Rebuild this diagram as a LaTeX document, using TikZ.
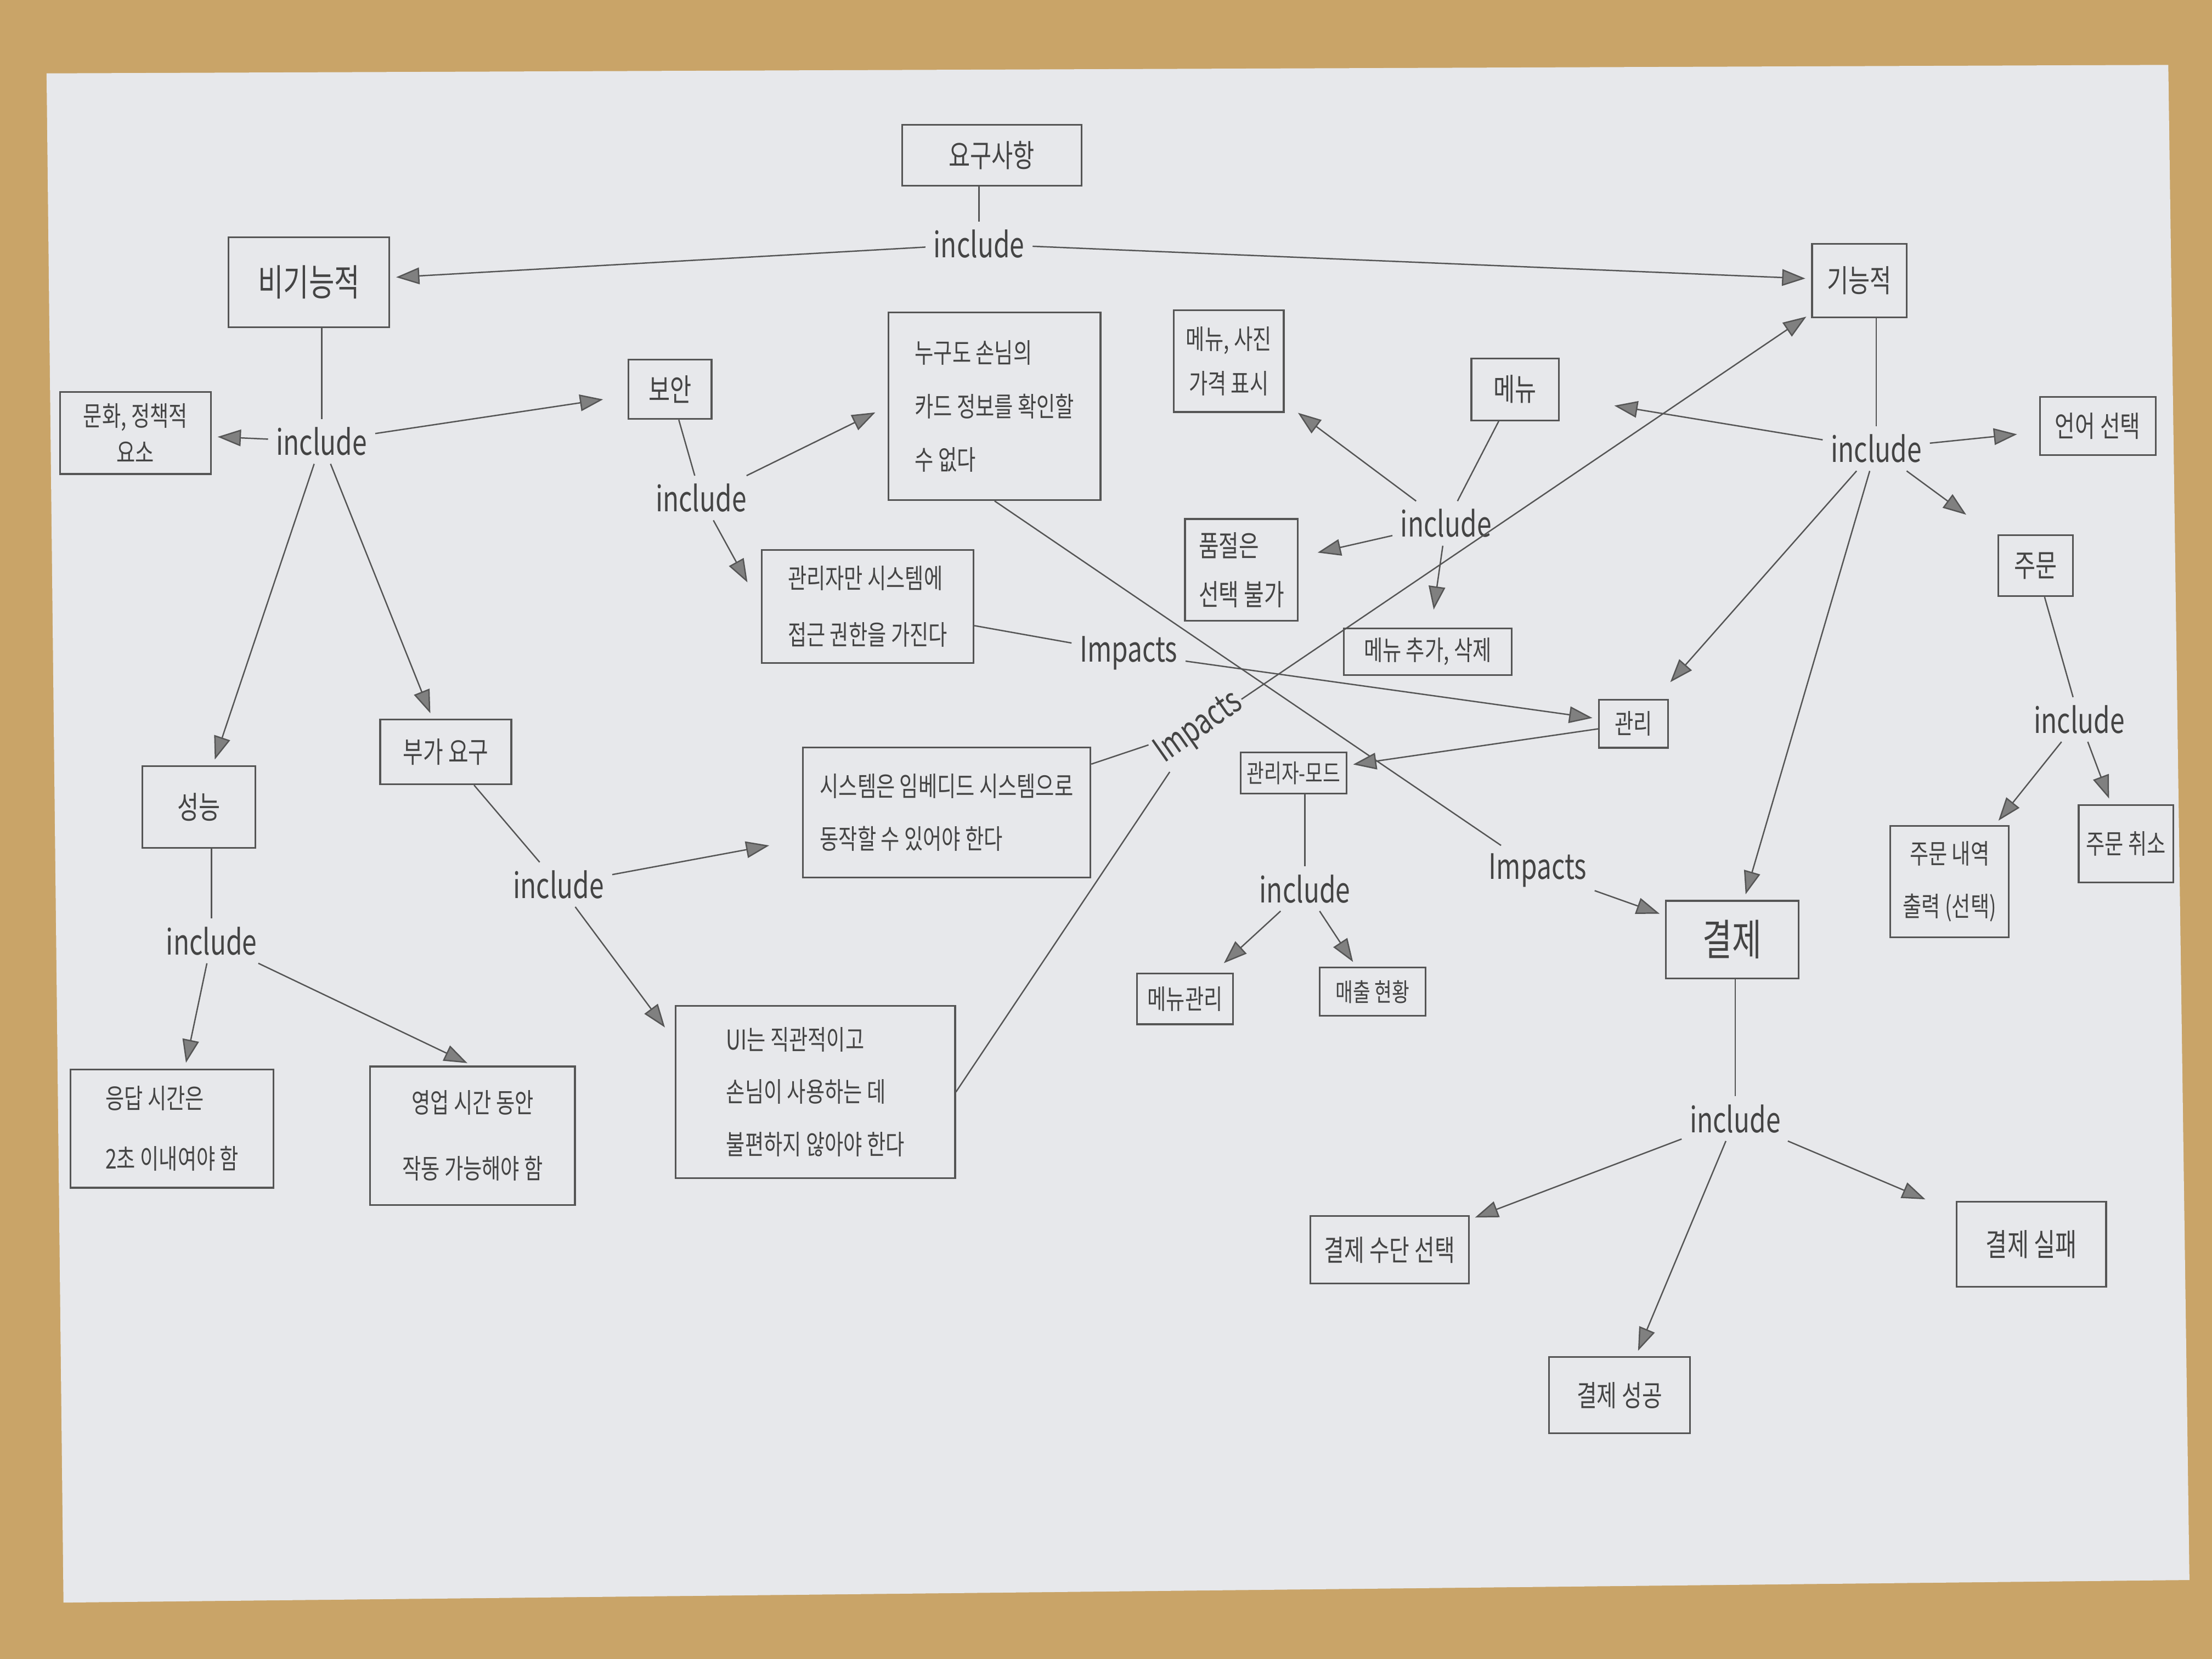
\documentclass[tikz,border=0pt]{standalone}
\usepackage{fontspec}
\newfontfamily\kr[FakeStretch=0.75]{Noto Sans CJK KR}
\usetikzlibrary{arrows.meta}
\definecolor{pencil}{HTML}{555555}
\definecolor{ink}{HTML}{444444}
\definecolor{paper}{HTML}{E7E8EB}
\definecolor{desk}{HTML}{C9A468}
\tikzset{
    box/.style={draw=pencil,line width=0.9pt,text=ink,align=center,inner sep=2pt,font=\kr\fontsize{14}{26}\selectfont},
    rel/.style={text=ink,inner sep=4pt,font=\kr\fontsize{18}{20}\selectfont},
    link/.style={draw=pencil,line width=0.7pt},
    arr/.style={link,-{Triangle[length=0.42cm,width=0.3cm,fill=pencil!75]},shorten >=3pt},
}

\begin{document}
\begin{tikzpicture}[x=0.0255cm,y=-0.0255cm]
            \fill[desk] (0,0) rectangle (1568,1176);
            \fill[paper] (33,52) -- (1537,46) -- (1552,1120) -- (45,1136) -- cycle;
            \useasboundingbox (0,0) rectangle (1568,1176);
            \node[box,minimum width=3.24cm,minimum height=1.1cm,font=\kr\fontsize{16}{20}\selectfont] (req) at (703,110) {요구사항};
            \node[rel] (increq) at (694,173) {include};
            \node[box,minimum width=2.91cm,minimum height=1.63cm,font=\kr\fontsize{19}{22}\selectfont] (nf) at (219,200) {비기능적};
            \node[box,minimum width=1.71cm,minimum height=1.33cm,font=\kr\fontsize{16}{20}\selectfont] (fn) at (1318,199) {기능적};
            % non-functional
            \node[rel] (incnf) at (228,313) {include};
            \node[box,minimum width=2.73cm,minimum height=1.48cm,font=\kr\fontsize{14}{19}\selectfont] (culture) at (96,307) {문화, 정책적\\요소};
            \node[box,minimum width=1.5cm,minimum height=1.07cm,font=\kr\fontsize{16}{20}\selectfont] (sec) at (475,276) {보안};
            \node[rel] (incsec) at (497,353) {include};
            \node[box,align=left,minimum width=3.83cm,minimum height=3.39cm,font=\kr\fontsize{14}{27.5}\selectfont] (card) at (705,288) {누구도 손님의\\카드 정보를 확인할\\수 없다};
            \node[box,align=left,minimum width=3.83cm,minimum height=2.04cm,font=\kr\fontsize{14}{29}\selectfont] (admin) at (615,430) {관리자만 시스템에\\접근 권한을 가진다};
            \node[box,minimum width=2.04cm,minimum height=1.48cm,font=\kr\fontsize{16}{20}\selectfont] (perf) at (141,572) {성능};
            \node[rel] (incperf) at (150,667) {include};
            \node[box,align=left,minimum width=3.67cm,minimum height=2.14cm,font=\kr\fontsize{14}{31}\selectfont] (resp) at (122,800) {응답 시간은\\2초 이내여야 함};
            \node[box,minimum width=3.7cm,minimum height=2.5cm,font=\kr\fontsize{14}{34}\selectfont] (hours) at (335,805) {영업 시간 동안\\작동 가능해야 함};
            \node[box,minimum width=2.37cm,minimum height=1.17cm,font=\kr\fontsize{15}{20}\selectfont] (extra) at (316,533) {부가 요구};
            \node[rel] (incextra) at (396,627) {include};
            \node[box,align=left,minimum width=5.2cm,minimum height=2.35cm,font=\kr\fontsize{14}{27}\selectfont] (embed) at (671,576) {시스템은 임베디드 시스템으로\\동작할 수 있어야 한다};
            \node[box,align=left,minimum width=5.05cm,minimum height=3.11cm,font=\kr\fontsize{14}{27}\selectfont] (ui) at (578,774) {UI는 직관적이고\\손님이 사용하는 데\\불편하지 않아야 한다};
            \node[rel] (imp1) at (800,463) {Impacts};
            \node[rel,rotate=35,inner sep=1pt] (imp2) at (850,516) {Impacts};
            \node[rel] (imp3) at (1090,617) {Impacts};
            % functional
            \node[rel] (incfn) at (1330,318) {include};
            \node[box,minimum width=2.09cm,minimum height=1.05cm,font=\kr\fontsize{15}{20}\selectfont] (lang) at (1487,302) {언어 선택};
            \node[box,minimum width=1.35cm,minimum height=1.1cm,font=\kr\fontsize{16}{20}\selectfont] (order) at (1443,401) {주문};
            \node[rel] (incorder) at (1474,510) {include};
            \node[box,minimum width=2.14cm,minimum height=2.01cm,font=\kr\fontsize{14}{27}\selectfont] (history) at (1382,625) {주문 내역\\출력 (선택)};
            \node[box,minimum width=1.71cm,minimum height=1.4cm,font=\kr\fontsize{14}{20}\selectfont] (cancel) at (1507,598) {주문 취소};
            \node[box,minimum width=1.58cm,minimum height=1.12cm,font=\kr\fontsize{16}{20}\selectfont] (menu) at (1074,276) {메뉴};
            \node[rel] (incmenu) at (1025,371) {include};
            \node[box,minimum width=1.99cm,minimum height=1.84cm,font=\kr\fontsize{14}{23}\selectfont] (photo) at (871,256) {메뉴, 사진\\가격 표시};
            \node[box,align=left,minimum width=2.04cm,minimum height=1.84cm,font=\kr\fontsize{15}{25}\selectfont] (soldout) at (880,404) {품절은\\선택 불가};
            \node[box,minimum width=3.03cm,minimum height=0.84cm,font=\kr\fontsize{14}{20}\selectfont] (addel) at (1012,462) {메뉴 추가, 삭제};
            \node[box,minimum width=1.25cm,minimum height=0.87cm,font=\kr\fontsize{14}{20}\selectfont] (mgmt) at (1158,513) {관리};
            \node[box,minimum width=1.91cm,minimum height=0.74cm,font=\kr\fontsize{13}{20}\selectfont] (adminmode) at (917,548) {관리자-모드};
            \node[rel] (incadm) at (925,630) {include};
            \node[box,minimum width=1.73cm,minimum height=0.92cm,font=\kr\fontsize{14}{20}\selectfont] (menumgmt) at (840,708) {메뉴관리};
            \node[box,minimum width=1.91cm,minimum height=0.87cm,font=\kr\fontsize{13}{20}\selectfont] (sales) at (973,703) {매출 현황};
            \node[box,minimum width=2.4cm,minimum height=1.4cm,font=\kr\fontsize{22}{24}\selectfont] (pay) at (1228,666) {결제};
            \node[rel] (incpay) at (1230,793) {include};
            \node[box,minimum width=2.86cm,minimum height=1.22cm,font=\kr\fontsize{15}{20}\selectfont] (paymethod) at (985,886) {결제 수단 선택};
            \node[box,minimum width=2.55cm,minimum height=1.38cm,font=\kr\fontsize{15}{20}\selectfont] (payok) at (1148,989) {결제 성공};
            \node[box,minimum width=2.7cm,minimum height=1.53cm,font=\kr\fontsize{16}{20}\selectfont] (payfail) at (1440,882) {결제 실패};
            % connectors
            \draw[link] (increq |- req.south) -- (increq);
            \draw[arr] (increq) -- (nf);
            \draw[arr] (increq) -- (fn);
            \draw[link] (incnf |- nf.south) -- (incnf);
            \draw[arr] (incnf) -- (culture);
            \draw[arr,shorten >=0.45cm] (incnf) -- (sec);
            \draw[arr] (incnf) -- (perf);
            \draw[arr] (incnf) -- (extra);
            \draw[link] (sec) -- (incsec);
            \draw[arr,shorten >=0.25cm] (incsec) -- (card.west);
            \draw[arr,shorten >=0.5cm] (incsec) -- (admin.west);
            \draw[link] (admin) -- (imp1);
            \draw[arr] (imp1) -- (mgmt);
            \draw[link] (card.south) -- (imp3);
            \draw[arr] (imp3) -- (pay);
            \draw[link] (embed) -- (imp2);
            \draw[link] (ui.east) -- (imp2);
            \draw[arr] (imp2) -- (fn);
            \draw[link] (incperf |- perf.south) -- (incperf);
            \draw[arr] (incperf) -- (resp);
            \draw[arr] (incperf) -- (hours.north);
            \draw[link] (extra) -- (incextra);
            \draw[arr,shorten >=0.6cm] (incextra) -- (embed);
            \draw[arr,shorten >=0.3cm] (incextra) -- (ui.160);
            \draw[link] (incfn |- fn.south) -- (incfn);
            \draw[arr,shorten >=1cm] (incfn) -- (menu);
            \draw[arr,shorten >=0.4cm] (incfn) -- (lang);
            \draw[arr,shorten >=0.7cm] (incfn) -- (order);
            \draw[arr,shorten >=0.4cm] (incfn) -- (mgmt);
            \draw[arr] (incfn) -- (pay);
            \draw[link] (menu) -- (incmenu);
            \draw[arr,shorten >=0.3cm] (incmenu) -- (photo);
            \draw[arr,shorten >=0.35cm] (incmenu) -- (soldout);
            \draw[arr,shorten >=0.33cm] (incmenu) -- (addel);
            \draw[arr] (mgmt) -- (adminmode);
            \draw[link] (incadm |- adminmode.south) -- (incadm);
            \draw[arr,shorten >=0.25cm] (incadm) -- (menumgmt);
            \draw[arr] (incadm) -- (sales);
            \draw[link] (order) -- (incorder);
            \draw[arr] (incorder) -- (history);
            \draw[arr] (incorder) -- (cancel);
            \draw[link] (incpay |- pay.south) -- (incpay);
            \draw[arr] (incpay) -- (paymethod);
            \draw[arr] (incpay) -- (payok);
            \draw[arr,shorten >=0.6cm] (incpay) -- (payfail);
        \end{tikzpicture}
\end{document}
